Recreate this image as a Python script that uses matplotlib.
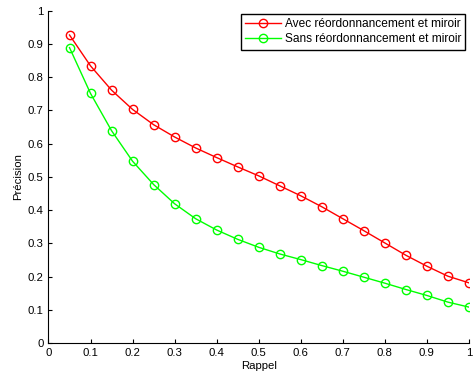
import matplotlib
matplotlib.use("Agg")
import matplotlib.pyplot as plt

plt.rcParams['font.family'] = ['Liberation Sans', 'DejaVu Sans']

rappel = [0.05, 0.10, 0.15, 0.20, 0.25, 0.30, 0.35, 0.40, 0.45, 0.50,
          0.55, 0.60, 0.65, 0.70, 0.75, 0.80, 0.85, 0.90, 0.95, 1.00]
avec = [0.927, 0.834, 0.761, 0.703, 0.657, 0.620, 0.587, 0.558, 0.530, 0.503,
        0.473, 0.443, 0.410, 0.374, 0.338, 0.301, 0.264, 0.231, 0.201, 0.181]
sans = [0.889, 0.751, 0.639, 0.547, 0.477, 0.419, 0.374, 0.340, 0.312, 0.288,
        0.268, 0.251, 0.233, 0.216, 0.198, 0.180, 0.161, 0.143, 0.123, 0.108]
ticks = [0, 0.1, 0.2, 0.3, 0.4, 0.5, 0.6, 0.7, 0.8, 0.9, 1]
tick_labels = ['0', '0.1', '0.2', '0.3', '0.4', '0.5', '0.6', '0.7', '0.8', '0.9', '1']

fig = plt.figure(figsize=(4.73, 3.78), dpi=100)
ax = fig.add_axes([0.1025, 0.0926, 0.889, 0.879])

ax.plot(rappel, avec, color='#ff0000', marker='o', mfc='none', ms=6, lw=1.0,
        mew=1.0, label='Avec réordonnancement et miroir')
ax.plot(rappel, sans, color='#00ff00', marker='o', mfc='none', ms=6, lw=1.0,
        mew=1.0, label='Sans réordonnancement et miroir')

ax.set_xlim(0, 1)
ax.set_ylim(0, 1)
ax.set_xticks(ticks)
ax.set_xticklabels(tick_labels)
ax.set_yticks(ticks)
ax.set_yticklabels(tick_labels)
ax.tick_params(direction='in', length=3, labelsize=8.2, width=0.8)
for s in ['top', 'right']:
    ax.spines[s].set_visible(False)
for s in ['left', 'bottom']:
    ax.spines[s].set_linewidth(0.8)

ax.set_xlabel('Rappel', fontsize=8.2, labelpad=2)
ax.set_ylabel('Précision', fontsize=8.2, labelpad=3)

leg = ax.legend(loc='upper right', fontsize=8.6, fancybox=False, framealpha=1,
                edgecolor='black', borderpad=0.35, handlelength=3.0,
                handletextpad=0.3, labelspacing=0.25, borderaxespad=0.3)
leg.get_frame().set_linewidth(1.0)

fig.savefig('out.png', dpi=100)
